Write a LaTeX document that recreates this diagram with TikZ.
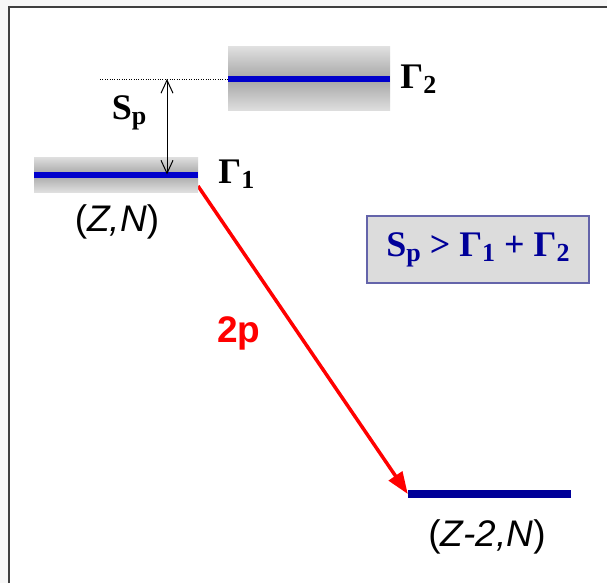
\documentclass[tikz,border=0pt]{standalone}
\usepackage{fontspec}
\setmainfont{Liberation Serif}
\setsansfont{Liberation Sans}
\usetikzlibrary{arrows.meta}
\usetikzlibrary{calc}
\definecolor{llgray}{RGB}{247,247,247}
\definecolor{barblue}{RGB}{0,0,204}
\definecolor{darkblue}{RGB}{0,0,153}
\definecolor{boxgray}{RGB}{220,220,220}
\definecolor{boxedge}{RGB}{100,100,170}
\newcommand{\levelbar}{\draw[barblue, line width=6pt]}
\newcommand{\lowsub}[1]{\raisebox{-0.3ex}{\fontsize{26}{26}\selectfont #1}}
\tikzset{level/.style={inner sep=0pt, top color=gray!25, bottom color=gray!25, middle color=gray!70}}

\begin{document}
\begin{tikzpicture}[x=1pt, y=-1pt]
    % Draw frame
    \useasboundingbox (0,0) rectangle (607,583);
    \fill[llgray] (0,0) rectangle (607,583);
    \fill[white] (9,7) rectangle (607,583);
    \draw[black!75, line width=2.5pt] (9,583) -- (9,7) -- (607,7);

    % Draw decay
    \coordinate (a) at (198,186);
    \node[fill=darkblue, inner sep=0pt, minimum width=163pt, minimum height=8pt] (c) at (489.5,494) {};
    \draw[red, line width=3.5pt, -{Triangle[length=22pt,width=16pt]}] (a) -- (c.west);
    \node[red, font=\sffamily\bfseries\fontsize{37}{37}\selectfont] (p2) at (239,333) {2p};

    % Draw levels
    \node[level, minimum width=164pt, minimum height=35pt] (a1) at (116,174.5) {};
    \node[level, minimum width=162pt, minimum height=64pt] (b1) at (309,79) {};
    \levelbar (a1.west) -- (a1.east);
    \levelbar (b1.west) -- (b1.east);

    \node[anchor=west, inner sep=0pt, font=\bfseries\fontsize{36}{36}\selectfont] (ga) at ([xshift=20pt]a1.east) {Γ\lowsub{1}};
    \node[anchor=west, inner sep=0pt, font=\bfseries\fontsize{36}{36}\selectfont] (gb) at ([xshift=10pt]b1.east) {Γ\lowsub{2}};
    \node[font=\sffamily\fontsize{37}{37}\selectfont] (za) at (117,222) {(\textit{Z,N})};
    \node[font=\sffamily\fontsize{37}{37}\selectfont] (zc) at (487,537) {(\textit{Z-2,N})};

    % Draw separation energy
    \coordinate (d) at (100,79);
    \coordinate (s) at (167,79);
    \draw[dotted] (d) -- (b1.west);
    \draw[{Straight Barb[length=13pt,width=12pt]}-{Straight Barb[length=13pt,width=12pt]}, line width=1pt] (s) -- (s |- a1.center);
    \node[font=\bfseries\fontsize{36}{36}\selectfont] (sp) at (129,113) {S\lowsub{p}};

    \node[draw=boxedge, fill=boxgray, line width=1.2pt, minimum width=222pt, minimum height=67pt, text=darkblue, font=\bfseries\fontsize{36}{36}\selectfont] (cond) at (478,249.5) {S\lowsub{p} > Γ\lowsub{1} + Γ\lowsub{2}};
\end{tikzpicture}
\end{document}
